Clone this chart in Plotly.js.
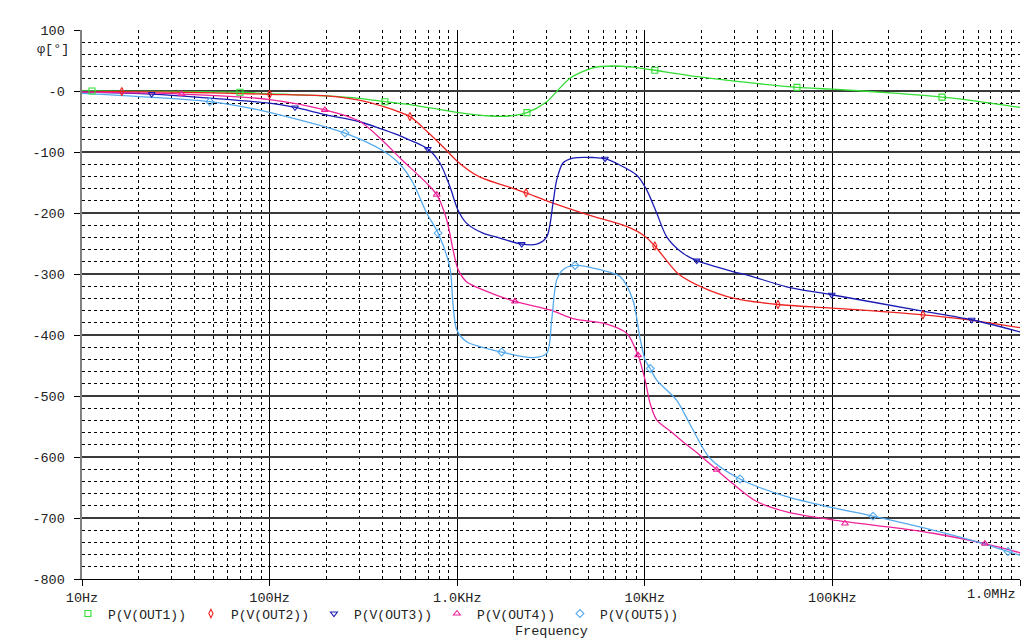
<!DOCTYPE html>
<html>
<head>
<meta charset="utf-8">
<script src="https://cdn.plot.ly/plotly-3.0.1.min.js"></script>
<style>
html,body{margin:0;padding:0;background:#fff;}
#chart{width:1024px;height:643px;}
</style>
</head>
<body>
<div id="chart"></div>
<script>
// ---- data (frequency in Hz, phase in degrees) ----
var out1Freq  = [10, 20, 40, 69.5, 100, 200, 300, 412, 580, 800, 1000, 1496, 1983, 2355, 3000, 3990, 5290, 6773, 8652, 10200, 11310, 19630, 35000, 64730, 100000, 202700, 383700, 600000, 1000000];
var out1Phase = [0, -0.5, -1, -2, -4.5, -8, -12, -17.5, -23, -30, -35, -41, -40.5, -35.5, -17.5, 21, 38, 41, 39, 36, 34, 23, 14, 6, 3, -3, -10, -17, -27];

var out2Freq  = [10, 16.3, 30, 50, 100, 200, 300, 400, 560, 700, 850, 1000, 1300, 2000, 2328, 3000, 5000, 8000, 10000, 11310, 15000, 20000, 30000, 51290, 100000, 304000, 500000, 1000000];
var out2Phase = [-1, -1, -2, -3, -5.5, -8, -15, -25, -42, -68, -93, -115, -140, -160, -167, -180, -203, -222, -238, -254, -299, -321, -340, -350, -356, -367, -374, -388];

var out3Freq  = [10, 23.5, 50, 100, 136.6, 200, 300, 400, 500, 698, 809, 915, 1009, 1124, 1372, 1690, 2208, 2655, 3000, 3241, 3390, 3664, 4140, 5293, 6137, 9056, 10233, 11570, 13087, 15980, 18910, 29520, 36360, 57060, 99120, 293000, 552700, 1000000];
var out3Phase = [-2, -5, -12, -20, -27, -39, -50, -63, -74, -95, -118, -157, -195, -217, -233, -241, -251, -251, -239, -184, -146, -118, -110, -109, -111, -138, -162, -200, -239, -266, -278, -296, -303, -321, -334, -360, -375, -395];

var out4Freq  = [10, 34, 100, 197, 303, 402, 500, 687, 778, 879, 950, 1009, 1124, 1372, 2032, 3125, 4140, 6270, 8010, 9200, 10040, 10670, 11570, 14130, 15980, 19680, 24150, 29520, 39490, 57060, 100000, 229000, 343400, 650000, 1000000];
var out4Phase = [-2, -5, -14, -31, -50, -82, -111, -151, -170, -211, -260, -292, -313, -326, -345, -359, -373, -382, -397, -433, -474, -512, -539, -561, -575, -597, -621, -644, -673, -690, -703, -717, -725, -742, -757];

var out5Freq  = [10, 48, 78.6, 100, 252, 402, 498, 580, 687, 791, 915, 950, 996, 1124, 1726, 2535, 3000, 3190, 3390, 3664, 4250, 5770, 7380, 8650, 9400, 10040, 10690, 11570, 14790, 17340, 22250, 32170, 57060, 100000, 164600, 343400, 635000, 863000, 1000000];
var out5Phase = [-4, -17.5, -28, -35, -69, -98, -121, -150, -200, -233, -290, -350, -392, -411, -428, -437, -430, -375, -310, -293, -286, -293, -304, -343, -403, -441, -455, -474, -507, -545, -602, -636, -665, -683, -697, -720, -742, -755, -761];

// marker positions along each curve
var out1MarkFreq  = [11.3, 69.5, 412, 2355, 11310, 64730, 383700];
var out1MarkPhase = [0, -2, -17.5, -35.5, 34, 6, -10];
var out2MarkFreq  = [16.3, 100, 560, 2328, 11310, 51290, 304000];
var out2MarkPhase = [-1, -5.5, -42, -167, -254, -350, -367];
var out3MarkFreq  = [23.5, 136.6, 698, 2208, 6137, 18910, 99120, 552700];
var out3MarkPhase = [-5, -27, -95, -251, -111, -278, -334, -375];
var out4MarkFreq  = [34, 197, 778, 2032, 9200, 24150, 116700, 650000];
var out4MarkPhase = [-5, -31, -170, -345, -433, -621, -709, -742];
var out5MarkFreq  = [48, 252, 791, 1726, 4250, 10690, 32170, 164600, 863000];
var out5MarkPhase = [-17.5, -69, -233, -428, -286, -455, -636, -697, -755];

var seriesNames = ['P(V(OUT1))', 'P(V(OUT2))', 'P(V(OUT3))', 'P(V(OUT4))', 'P(V(OUT5))'];

var xTickVals = [10, 100, 1000, 10000, 100000, 1000000];
var xTickText = ['10Hz', '100Hz', '1.0KHz', '10KHz', '100KHz', '1.0MHz'];
var yTickVals = [100, 0, -100, -200, -300, -400, -500, -600, -700, -800];
var yTickText = ['100', '-0', '-100', '-200', '-300', '-400', '-500', '-600', '-700', '-800'];

// ---- styling ----
var colors  = ['#33dd33', '#ee2222', '#1c1cb4', '#ee2299', '#55aaee'];
var symbols = ['square-open', 'diamond-tall-open', 'triangle-down-open', 'triangle-up-open', 'diamond-open'];
var FONT = 'Liberation Mono, Courier New, monospace';
var FS = 13.5;
var LFS = 13;

// minor grid positions (2..9 in every decade, every 20 degrees)
var minorX = [];
for (var d = 10; d < 1000000; d *= 10) { for (var m = 2; m <= 9; m++) minorX.push(d * m); }
var minorY = [];
for (var v = 80; v > -800; v -= 20) { if (v % 100 !== 0) minorY.push(v); }

var curveF = [out1Freq, out2Freq, out3Freq, out4Freq, out5Freq];
var curveP = [out1Phase, out2Phase, out3Phase, out4Phase, out5Phase];
var markF = [out1MarkFreq, out2MarkFreq, out3MarkFreq, out4MarkFreq, out5MarkFreq];
var markP = [out1MarkPhase, out2MarkPhase, out3MarkPhase, out4MarkPhase, out5MarkPhase];

var traces = [];
for (var i = 0; i < 5; i++) {
  traces.push({
    x: curveF[i], y: curveP[i], type: 'scatter', mode: 'lines',
    line: {color: colors[i], width: 1.3, shape: 'spline', smoothing: 0.8},
    showlegend: false, legendgroup: 'g' + i, hoverinfo: 'skip'
  });
}
for (var j = 0; j < 5; j++) {
  traces.push({
    x: markF[j], y: markP[j], type: 'scatter', mode: 'markers', name: seriesNames[j],
    marker: {symbol: symbols[j], color: colors[j], size: 6, line: {width: 1.1, color: colors[j]}},
    legendgroup: 'g' + j
  });
}

// last x tick label is drawn right-aligned to the plot edge (as in the reference)
var shownXText = xTickText.slice(0, xTickText.length - 1).concat(['']);
var lastTickLog = Math.log10(xTickVals[xTickVals.length - 1]);

var layout = {
  width: 1024, height: 643,
  margin: {l: 82, r: 4, t: 30, b: 64},
  paper_bgcolor: '#ffffff', plot_bgcolor: '#ffffff',
  font: {family: FONT, size: FS, color: '#222'},
  showlegend: true,
  legend: {
    orientation: 'h', x: -0.015, xanchor: 'left', y: -0.063, yanchor: 'middle',
    font: {family: FONT, size: LFS, color: '#222'},
    entrywidth: 78, entrywidthmode: 'pixels', itemwidth: 30,
    bgcolor: 'rgba(0,0,0,0)', borderwidth: 0, tracegroupgap: 0
  },
  xaxis: {
    type: 'log', range: [1, 6],
    tickmode: 'array', tickvals: xTickVals, ticktext: shownXText,
    ticks: 'outside', ticklen: 6, tickcolor: '#000', tickwidth: 1,
    showline: true, linecolor: '#000', linewidth: 1,
    showgrid: true, gridcolor: '#000', gridwidth: 1,
    zeroline: false,
    tickfont: {family: FONT, size: FS, color: '#222'},
    minor: {tickmode: 'array', tickvals: minorX, showgrid: true, gridcolor: '#000', gridwidth: 1, griddash: '3px,3px', ticks: ''}
  },
  yaxis: {
    range: [-800, 100],
    tickmode: 'array', tickvals: yTickVals, ticktext: yTickText,
    ticks: 'outside', ticklen: 6, tickcolor: '#000', tickwidth: 1,
    ticklabelstandoff: 6,
    showline: true, linecolor: '#808080', linewidth: 2.5,
    showgrid: true, gridcolor: '#3a3a3a', gridwidth: 1.4,
    zeroline: false,
    tickfont: {family: FONT, size: FS, color: '#222'},
    minor: {tickmode: 'array', tickvals: minorY, showgrid: true, gridcolor: '#000', gridwidth: 1, griddash: '3px,3px', ticks: ''}
  },
  annotations: [
    {text: 'φ[°]', xref: 'paper', yref: 'paper', x: -0.012, y: 0.965, xanchor: 'right', yanchor: 'middle',
     showarrow: false, font: {family: FONT, size: FS, color: '#222'}},
    {text: xTickText[xTickText.length - 1], xref: 'x', yref: 'paper', x: lastTickLog, xshift: -2,
     y: -0.029, xanchor: 'right', yanchor: 'middle',
     showarrow: false, font: {family: FONT, size: FS, color: '#222'}},
    {text: 'Frequency', xref: 'paper', yref: 'paper', x: 0.5, y: -0.095, xanchor: 'center', yanchor: 'middle',
     showarrow: false, font: {family: FONT, size: FS, color: '#222'}}
  ]
};

Plotly.newPlot('chart', traces, layout, {displayModeBar: false, staticPlot: true});
</script>
</body>
</html>
